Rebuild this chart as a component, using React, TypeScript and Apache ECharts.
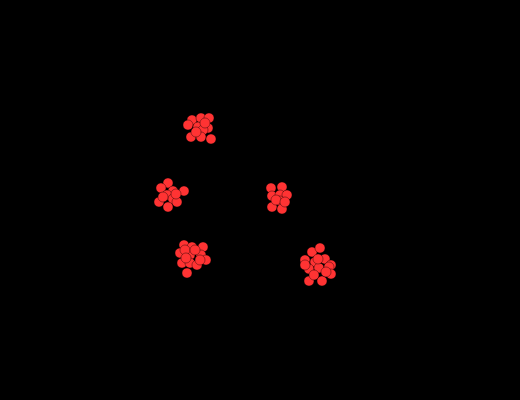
import React, { useEffect, useRef } from "react";
import * as echarts from "echarts";

// Points, per cluster: [x, y]
const clusterA: number[][] = [
  [192, 280], [201, 282], [209, 282], [188, 275], [198, 273], [208, 272],
  [203, 270], [191, 263], [201, 263], [211, 261], [196, 268], [205, 277],
];
const clusterB: number[][] = [
  [168, 217], [161, 212], [173, 209], [184, 209], [167, 205], [173, 201],
  [159, 198], [177, 198], [168, 193], [176, 206], [163, 203],
];
const clusterC: number[][] = [
  [271, 212], [282, 213], [272, 204], [280, 205], [287, 205], [280, 199],
  [272, 193], [282, 191], [276, 200], [285, 198],
];
const clusterD: number[][] = [
  [184, 155], [192, 153], [203, 153], [180, 147], [190, 145], [201, 145],
  [206, 140], [182, 137], [190, 137], [197, 135], [187, 127], [185, 150],
  [195, 150], [200, 140], [186, 142],
];
const clusterE: number[][] = [
  [312, 148], [320, 152], [305, 140], [315, 138], [325, 141], [331, 135],
  [309, 131], [319, 132], [329, 133], [331, 126], [309, 119], [322, 119],
  [318, 141], [326, 128], [314, 125], [305, 135],
];

const allPoints = [...clusterA, ...clusterB, ...clusterC, ...clusterD, ...clusterE];

export default function App() {
  const ref = useRef<HTMLDivElement>(null);
  useEffect(() => {
    document.body.style.margin = "0";
    document.body.style.background = "#000";
    const chart = echarts.init(ref.current!, undefined, { renderer: "svg" });
    chart.setOption({
      animation: false,
      backgroundColor: "#000000",
      grid: { left: 0, right: 0, top: 0, bottom: 0 },
      xAxis: { type: "value", min: 0, max: 520, show: false },
      yAxis: { type: "value", min: 0, max: 400, show: false },
      series: [
        {
          type: "scatter",
          data: allPoints,
          symbol: "circle",
          symbolSize: 10,
          itemStyle: { color: "#ff3333", opacity: 1, borderColor: "#000000", borderWidth: 0.4 },
        },
      ],
    });
    return () => chart.dispose();
  }, []);
  return <div ref={ref} style={{ width: 520, height: 400 }} />;
}
